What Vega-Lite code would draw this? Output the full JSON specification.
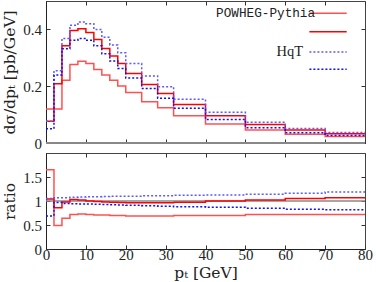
{
 "$schema": "https://vega.github.io/schema/vega-lite/v6.json",
 "padding": {"left": 2, "top": 0, "right": 10, "bottom": 1},
 "spacing": 0,
 "config": {
  "font": "Liberation Serif",
  "view": {"stroke": "#444", "strokeWidth": 1},
  "axis": {"labelFont": "Liberation Serif", "labelFontSize": 15, "labelColor": "#222", "titleFont": "DejaVu Serif", "titleFontSize": 15.5, "titleFontWeight": "normal", "titleColor": "#222", "tickSize": -4, "tickColor": "#333", "tickWidth": 1, "domainColor": "#222", "domainWidth": 1, "grid": false, "labelFlush": false, "labelOverlap": false},
  "axisY": {"labelPadding": 8.5, "titlePadding": 5},
  "axisX": {"labelPadding": 2, "titlePadding": 3}
 },
 "datasets": {
  "top": [
   {"x":0,"v":0.120,"s":"POWHEG-Pythia"},{"x":2,"v":0.120,"s":"POWHEG-Pythia"},{"x":4,"v":0.221,"s":"POWHEG-Pythia"},{"x":6,"v":0.276,"s":"POWHEG-Pythia"},{"x":8,"v":0.288,"s":"POWHEG-Pythia"},{"x":10,"v":0.280,"s":"POWHEG-Pythia"},{"x":12,"v":0.259,"s":"POWHEG-Pythia"},{"x":14,"v":0.239,"s":"POWHEG-Pythia"},{"x":16,"v":0.221,"s":"POWHEG-Pythia"},{"x":18,"v":0.201,"s":"POWHEG-Pythia"},{"x":20,"v":0.178,"s":"POWHEG-Pythia"},{"x":24,"v":0.145,"s":"POWHEG-Pythia"},{"x":28,"v":0.124,"s":"POWHEG-Pythia"},{"x":32,"v":0.096,"s":"POWHEG-Pythia"},{"x":40,"v":0.067,"s":"POWHEG-Pythia"},{"x":50,"v":0.046,"s":"POWHEG-Pythia"},{"x":60,"v":0.031,"s":"POWHEG-Pythia"},{"x":70,"v":0.023,"s":"POWHEG-Pythia"},{"x":80,"v":0.023,"s":"POWHEG-Pythia"},
   {"x":0,"v":0.077,"s":"POWHEG-Pythia 2"},{"x":2,"v":0.209,"s":"POWHEG-Pythia 2"},{"x":4,"v":0.342,"s":"POWHEG-Pythia 2"},{"x":6,"v":0.396,"s":"POWHEG-Pythia 2"},{"x":8,"v":0.402,"s":"POWHEG-Pythia 2"},{"x":10,"v":0.389,"s":"POWHEG-Pythia 2"},{"x":12,"v":0.364,"s":"POWHEG-Pythia 2"},{"x":14,"v":0.333,"s":"POWHEG-Pythia 2"},{"x":16,"v":0.306,"s":"POWHEG-Pythia 2"},{"x":18,"v":0.280,"s":"POWHEG-Pythia 2"},{"x":20,"v":0.245,"s":"POWHEG-Pythia 2"},{"x":24,"v":0.206,"s":"POWHEG-Pythia 2"},{"x":28,"v":0.174,"s":"POWHEG-Pythia 2"},{"x":32,"v":0.136,"s":"POWHEG-Pythia 2"},{"x":40,"v":0.096,"s":"POWHEG-Pythia 2"},{"x":50,"v":0.065,"s":"POWHEG-Pythia 2"},{"x":60,"v":0.046,"s":"POWHEG-Pythia 2"},{"x":70,"v":0.033,"s":"POWHEG-Pythia 2"},{"x":80,"v":0.033,"s":"POWHEG-Pythia 2"},
   {"x":0,"v":0.077,"s":"HqT"},{"x":2,"v":0.254,"s":"HqT"},{"x":4,"v":0.368,"s":"HqT"},{"x":6,"v":0.415,"s":"HqT"},{"x":8,"v":0.426,"s":"HqT"},{"x":10,"v":0.420,"s":"HqT"},{"x":12,"v":0.400,"s":"HqT"},{"x":14,"v":0.372,"s":"HqT"},{"x":16,"v":0.345,"s":"HqT"},{"x":18,"v":0.318,"s":"HqT"},{"x":20,"v":0.280,"s":"HqT"},{"x":24,"v":0.236,"s":"HqT"},{"x":28,"v":0.198,"s":"HqT"},{"x":32,"v":0.154,"s":"HqT"},{"x":40,"v":0.108,"s":"HqT"},{"x":50,"v":0.073,"s":"HqT"},{"x":60,"v":0.051,"s":"HqT"},{"x":70,"v":0.037,"s":"HqT"},{"x":80,"v":0.037,"s":"HqT"},
   {"x":0,"v":0.050,"s":"HqT 2"},{"x":2,"v":0.239,"s":"HqT 2"},{"x":4,"v":0.332,"s":"HqT 2"},{"x":6,"v":0.362,"s":"HqT 2"},{"x":8,"v":0.368,"s":"HqT 2"},{"x":10,"v":0.362,"s":"HqT 2"},{"x":12,"v":0.342,"s":"HqT 2"},{"x":14,"v":0.314,"s":"HqT 2"},{"x":16,"v":0.289,"s":"HqT 2"},{"x":18,"v":0.262,"s":"HqT 2"},{"x":20,"v":0.229,"s":"HqT 2"},{"x":24,"v":0.192,"s":"HqT 2"},{"x":28,"v":0.158,"s":"HqT 2"},{"x":32,"v":0.122,"s":"HqT 2"},{"x":40,"v":0.083,"s":"HqT 2"},{"x":50,"v":0.054,"s":"HqT 2"},{"x":60,"v":0.036,"s":"HqT 2"},{"x":70,"v":0.026,"s":"HqT 2"},{"x":80,"v":0.026,"s":"HqT 2"}
  ],
  "ratio": [
   {"x":0,"v":1.65,"s":"POWHEG-Pythia"},{"x":2,"v":0.49,"s":"POWHEG-Pythia"},{"x":4,"v":0.64,"s":"POWHEG-Pythia"},{"x":6,"v":0.72,"s":"POWHEG-Pythia"},{"x":8,"v":0.73,"s":"POWHEG-Pythia"},{"x":10,"v":0.72,"s":"POWHEG-Pythia"},{"x":12,"v":0.71,"s":"POWHEG-Pythia"},{"x":14,"v":0.71,"s":"POWHEG-Pythia"},{"x":16,"v":0.70,"s":"POWHEG-Pythia"},{"x":18,"v":0.70,"s":"POWHEG-Pythia"},{"x":20,"v":0.69,"s":"POWHEG-Pythia"},{"x":24,"v":0.69,"s":"POWHEG-Pythia"},{"x":28,"v":0.69,"s":"POWHEG-Pythia"},{"x":32,"v":0.70,"s":"POWHEG-Pythia"},{"x":40,"v":0.70,"s":"POWHEG-Pythia"},{"x":50,"v":0.72,"s":"POWHEG-Pythia"},{"x":60,"v":0.72,"s":"POWHEG-Pythia"},{"x":70,"v":0.72,"s":"POWHEG-Pythia"},{"x":80,"v":0.72,"s":"POWHEG-Pythia"},
   {"x":0,"v":1.04,"s":"POWHEG-Pythia 2"},{"x":2,"v":0.86,"s":"POWHEG-Pythia 2"},{"x":4,"v":0.98,"s":"POWHEG-Pythia 2"},{"x":6,"v":1.03,"s":"POWHEG-Pythia 2"},{"x":8,"v":1.02,"s":"POWHEG-Pythia 2"},{"x":10,"v":1.00,"s":"POWHEG-Pythia 2"},{"x":12,"v":0.99,"s":"POWHEG-Pythia 2"},{"x":14,"v":0.98,"s":"POWHEG-Pythia 2"},{"x":16,"v":0.975,"s":"POWHEG-Pythia 2"},{"x":18,"v":0.97,"s":"POWHEG-Pythia 2"},{"x":20,"v":0.965,"s":"POWHEG-Pythia 2"},{"x":24,"v":0.965,"s":"POWHEG-Pythia 2"},{"x":28,"v":0.965,"s":"POWHEG-Pythia 2"},{"x":32,"v":0.975,"s":"POWHEG-Pythia 2"},{"x":40,"v":1.00,"s":"POWHEG-Pythia 2"},{"x":50,"v":1.02,"s":"POWHEG-Pythia 2"},{"x":60,"v":1.05,"s":"POWHEG-Pythia 2"},{"x":70,"v":1.07,"s":"POWHEG-Pythia 2"},{"x":80,"v":1.07,"s":"POWHEG-Pythia 2"},
   {"x":0,"v":1.05,"s":"HqT"},{"x":2,"v":1.07,"s":"HqT"},{"x":4,"v":1.07,"s":"HqT"},{"x":6,"v":1.08,"s":"HqT"},{"x":8,"v":1.085,"s":"HqT"},{"x":10,"v":1.09,"s":"HqT"},{"x":12,"v":1.09,"s":"HqT"},{"x":14,"v":1.095,"s":"HqT"},{"x":16,"v":1.10,"s":"HqT"},{"x":18,"v":1.10,"s":"HqT"},{"x":20,"v":1.10,"s":"HqT"},{"x":24,"v":1.11,"s":"HqT"},{"x":28,"v":1.11,"s":"HqT"},{"x":32,"v":1.12,"s":"HqT"},{"x":40,"v":1.125,"s":"HqT"},{"x":50,"v":1.14,"s":"HqT"},{"x":60,"v":1.16,"s":"HqT"},{"x":70,"v":1.19,"s":"HqT"},{"x":80,"v":1.19,"s":"HqT"},
   {"x":0,"v":0.69,"s":"HqT 2"},{"x":2,"v":0.97,"s":"HqT 2"},{"x":4,"v":0.95,"s":"HqT 2"},{"x":6,"v":0.945,"s":"HqT 2"},{"x":8,"v":0.94,"s":"HqT 2"},{"x":10,"v":0.935,"s":"HqT 2"},{"x":12,"v":0.93,"s":"HqT 2"},{"x":14,"v":0.925,"s":"HqT 2"},{"x":16,"v":0.92,"s":"HqT 2"},{"x":18,"v":0.915,"s":"HqT 2"},{"x":20,"v":0.91,"s":"HqT 2"},{"x":24,"v":0.90,"s":"HqT 2"},{"x":28,"v":0.89,"s":"HqT 2"},{"x":32,"v":0.88,"s":"HqT 2"},{"x":40,"v":0.87,"s":"HqT 2"},{"x":50,"v":0.85,"s":"HqT 2"},{"x":60,"v":0.83,"s":"HqT 2"},{"x":70,"v":0.82,"s":"HqT 2"},{"x":80,"v":0.82,"s":"HqT 2"}
  ]
 },
 "vconcat": [
  {
   "width": 319, "height": 142,
   "layer": [
    {
     "data": {"values": [{"r": 0}]},
     "mark": {"type": "rule", "color": "#888", "strokeWidth": 2},
     "encoding": {"y": {"field": "r", "type": "quantitative", "scale": {"domain": [0, 0.5], "nice": false}, "axis": null}}
    },
    {
     "data": {"name": "top"},
     "mark": {"type": "line", "interpolate": "step-after", "strokeWidth": 1.5},
     "encoding": {
      "x": {"field": "x", "type": "quantitative", "scale": {"domain": [0, 80], "nice": false, "zero": false}, "axis": {"orient": "bottom", "values": [0,10,20,30,40,50,60,70,80], "labels": false, "title": null}},
      "y": {"field": "v", "type": "quantitative", "scale": {"domain": [0, 0.5], "nice": false}, "axis": {"values": [0, 0.2, 0.4], "format": ".1~f", "title": "dσ/dpₜ [pb/GeV]"}},
      "color": {"field": "s", "type": "nominal", "scale": {"domain": ["POWHEG-Pythia", "POWHEG-Pythia 2", "HqT", "HqT 2"], "range": ["#ff5050", "#ff0000", "#5a5aff", "#1010f0"]},
       "legend": {"orient": "none", "legendX": 261.7, "legendY": 6, "title": null, "padding": 0, "symbolType": "M-4,0H4", "symbolSize": 87, "symbolOffset": 14, "symbolStrokeWidth": 1.5, "labelAlign": "right", "labelOffset": -19.3, "rowPadding": 4.3, "labelFont": "Liberation Mono", "labelFontSize": 12.7, "labelColor": "#222", "labelLimit": 400,
        "labelExpr": "datum.value == 'HqT' ? 'HqT' : datum.value == 'POWHEG-Pythia' ? datum.value : '\u00a0\u00a0\u00a0\u00a0\u00a0\u00a0\u00a0\u00a0\u00a0\u00a0\u00a0\u00a0\u00a0'",
        "encode": {"labels": {"update": {"font": {"signal": "datum.value == 'HqT' ? 'Liberation Serif' : 'Liberation Mono'"}, "fontSize": {"signal": "datum.value == 'HqT' ? 14.5 : 12.7"}, "dx": {"signal": "datum.value == 'HqT' ? -12 : 0"}}}}}},
      "strokeDash": {"field": "s", "type": "nominal", "scale": {"domain": ["POWHEG-Pythia", "POWHEG-Pythia 2", "HqT", "HqT 2"], "range": [[1, 0], [1, 0], [2, 2], [2, 2]]},
       "legend": {"orient": "none", "legendX": 261.7, "legendY": 6, "title": null, "padding": 0, "symbolType": "M-4,0H4", "symbolSize": 87, "symbolOffset": 14, "symbolStrokeWidth": 1.5, "labelAlign": "right", "labelOffset": -19.3, "rowPadding": 4.3, "labelFont": "Liberation Mono", "labelFontSize": 12.7, "labelColor": "#222", "labelLimit": 400,
        "labelExpr": "datum.value == 'HqT' ? 'HqT' : datum.value == 'POWHEG-Pythia' ? datum.value : '\u00a0\u00a0\u00a0\u00a0\u00a0\u00a0\u00a0\u00a0\u00a0\u00a0\u00a0\u00a0\u00a0'",
        "encode": {"labels": {"update": {"font": {"signal": "datum.value == 'HqT' ? 'Liberation Serif' : 'Liberation Mono'"}, "fontSize": {"signal": "datum.value == 'HqT' ? 14.5 : 12.7"}, "dx": {"signal": "datum.value == 'HqT' ? -12 : 0"}}}}}}
     }
    },
    {
     "data": {"name": "top"},
     "mark": {"type": "point", "opacity": 0},
     "encoding": {
      "x": {"field": "x", "type": "quantitative", "scale": {"domain": [0, 80], "nice": false, "zero": false}, "axis": {"orient": "top", "values": [0,10,20,30,40,50,60,70,80], "labels": false, "title": null, "domain": false, "minExtent": 0, "maxExtent": 0}},
      "y": {"field": "v", "type": "quantitative", "scale": {"domain": [0, 0.5], "nice": false}, "axis": {"orient": "right", "values": [0, 0.2, 0.4], "labels": false, "title": null, "domain": false, "minExtent": 0, "maxExtent": 0}}
     }
    }
   ],
   "resolve": {"axis": {"x": "independent", "y": "independent"}}
  },
  {
   "width": 319, "height": 96,
   "layer": [
    {
     "data": {"values": [{"r": 1}]},
     "mark": {"type": "rule", "color": "#888", "strokeWidth": 1.5},
     "encoding": {"y": {"field": "r", "type": "quantitative", "scale": {"domain": [0, 2], "nice": false}, "axis": null}}
    },
    {
     "data": {"name": "ratio"},
     "mark": {"type": "line", "interpolate": "step-after", "strokeWidth": 1.5},
     "encoding": {
      "x": {"field": "x", "type": "quantitative", "scale": {"domain": [0, 80], "nice": false, "zero": false}, "axis": {"orient": "bottom", "values": [0,10,20,30,40,50,60,70,80], "title": "pₜ [GeV]"}},
      "y": {"field": "v", "type": "quantitative", "scale": {"domain": [0, 2], "nice": false}, "axis": {"values": [0, 0.5, 1, 1.5], "format": ".1~f", "title": "ratio"}},
      "color": {"field": "s", "type": "nominal", "scale": {"domain": ["POWHEG-Pythia", "POWHEG-Pythia 2", "HqT", "HqT 2"], "range": ["#ff5050", "#ff0000", "#5a5aff", "#1010f0"]}, "legend": null},
      "strokeDash": {"field": "s", "type": "nominal", "scale": {"domain": ["POWHEG-Pythia", "POWHEG-Pythia 2", "HqT", "HqT 2"], "range": [[1, 0], [1, 0], [2, 2], [2, 2]]}, "legend": null}
     }
    },
    {
     "data": {"name": "ratio"},
     "mark": {"type": "point", "opacity": 0},
     "encoding": {
      "x": {"field": "x", "type": "quantitative", "scale": {"domain": [0, 80], "nice": false, "zero": false}, "axis": {"orient": "top", "values": [0,10,20,30,40,50,60,70,80], "labels": false, "title": null, "domain": false, "minExtent": 0, "maxExtent": 0}},
      "y": {"field": "v", "type": "quantitative", "scale": {"domain": [0, 2], "nice": false}, "axis": {"orient": "right", "values": [0.5, 1, 1.5], "labels": false, "title": null, "domain": false, "minExtent": 0, "maxExtent": 0}}
     }
    }
   ],
   "resolve": {"axis": {"x": "independent", "y": "independent"}}
  }
 ]
}
